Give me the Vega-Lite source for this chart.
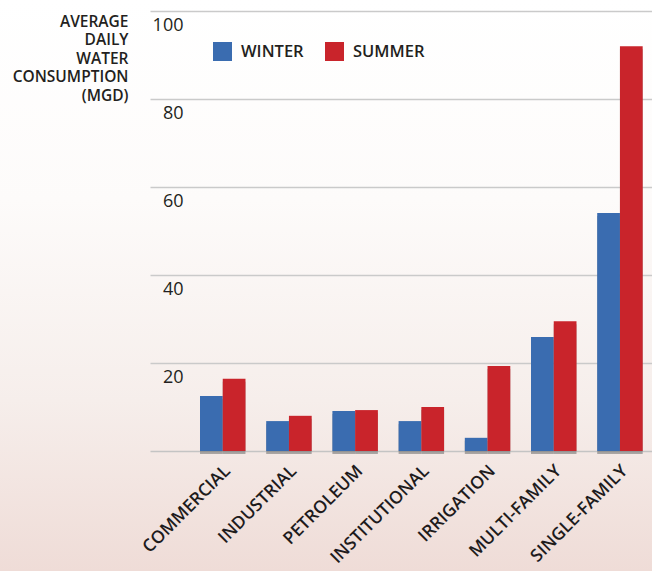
{
  "$schema": "https://vega.github.io/schema/vega-lite/v6.json",
  "padding": 0,
  "spacing": 0,
  "bounds": "flush",
  "background": "#ffffff",
  "config": {
    "view": {
      "stroke": null,
      "fill": {
        "gradient": "linear",
        "x1": 0, "y1": 0, "x2": 0, "y2": 1,
        "stops": [
          {"offset": 0, "color": "#ffffff"},
          {"offset": 0.35, "color": "#fdfbfa"},
          {"offset": 0.7, "color": "#f6eeeb"},
          {"offset": 1, "color": "#efdcd7"}
        ]
      }
    },
    "font": "Open Sans"
  },
  "hconcat": [
    {
      "width": 150,
      "height": 571,
      "data": {"values": [{}]},
      "mark": {
        "type": "rect",
        "fill": {
          "gradient": "linear",
          "x1": 0, "y1": 0, "x2": 0, "y2": 1,
          "stops": [
            {"offset": 0, "color": "#ffffff"},
            {"offset": 0.35, "color": "#fdfbfa"},
            {"offset": 0.7, "color": "#f6eeeb"},
            {"offset": 1, "color": "#efdcd7"}
          ]
        },
        "strokeWidth": 0
      },
      "encoding": {}
    },
    {
      "width": 502,
      "height": 571,
      "data": {
        "values": [
          {"sector": "COMMERCIAL", "season": "Winter", "mgd": 12.5},
          {"sector": "COMMERCIAL", "season": "Summer", "mgd": 16.4},
          {"sector": "INDUSTRIAL", "season": "Winter", "mgd": 6.8},
          {"sector": "INDUSTRIAL", "season": "Summer", "mgd": 8.0},
          {"sector": "PETROLEUM", "season": "Winter", "mgd": 9.1},
          {"sector": "PETROLEUM", "season": "Summer", "mgd": 9.3},
          {"sector": "INSTITUTIONAL", "season": "Winter", "mgd": 6.8},
          {"sector": "INSTITUTIONAL", "season": "Summer", "mgd": 10.0},
          {"sector": "IRRIGATION", "season": "Winter", "mgd": 3.0},
          {"sector": "IRRIGATION", "season": "Summer", "mgd": 19.3},
          {"sector": "MULTI-FAMILY", "season": "Winter", "mgd": 25.9},
          {"sector": "MULTI-FAMILY", "season": "Summer", "mgd": 29.5},
          {"sector": "SINGLE-FAMILY", "season": "Winter", "mgd": 54.1},
          {"sector": "SINGLE-FAMILY", "season": "Summer", "mgd": 92.0}
        ]
      },
      "encoding": {
        "x": {
          "field": "sector",
          "type": "nominal",
          "sort": null,
          "scale": {"paddingInner": 0.313, "paddingOuter": 0.448, "align": 0.843},
          "axis": {
            "title": null,
            "orient": "bottom",
            "offset": -120,
            "domain": true,
            "domainColor": "#c4c4c4",
            "domainWidth": 1.5,
            "ticks": false,
            "grid": false,
            "labelAngle": -45,
            "labelAlign": "right",
            "labelBaseline": "middle",
            "labelPadding": 17,
            "labelOffset": 5,
            "labelFont": "Open Sans",
            "labelFontSize": 17.5,
            "labelFontWeight": 600,
            "labelColor": "#1e1b1c"
          }
        },
        "xOffset": {
          "field": "season",
          "type": "nominal",
          "sort": ["Winter", "Summer"],
          "scale": {"paddingInner": 0, "paddingOuter": 0}
        },
        "y": {
          "field": "mgd",
          "type": "quantitative",
          "scale": {"domain": [-27.27, 102.5], "nice": false, "zero": false},
          "axis": {
            "values": [20, 40, 60, 80, 100],
            "grid": true,
            "gridColor": "#cacaca",
            "gridWidth": 1.5,
            "domain": false,
            "ticks": false,
            "labelAlign": "right",
            "labelBaseline": "top",
            "labelPadding": -33,
            "labelOffset": 5,
            "labelFont": "Open Sans",
            "labelFontSize": 18,
            "labelFontWeight": 500,
            "labelColor": "#231f20",
            "title": ["AVERAGE", "DAILY", "WATER", "CONSUMPTION", "(MGD)"],
            "titleAngle": 0,
            "titleAlign": "right",
            "titleBaseline": "top",
            "titleX": -22,
            "titleY": 14,
            "titleFont": "Open Sans",
            "titleFontSize": 15.5,
            "titleFontWeight": 600,
            "titleLineHeight": 18.5,
            "titleColor": "#231f20"
          }
        }
      },
      "layer": [
        {
          "mark": {"type": "bar", "color": "#6e6e6e", "opacity": 0.55, "xOffset": -4, "yOffset": 3, "y2Offset": 0}
        },
        {
          "mark": {"type": "bar"},
          "encoding": {
            "color": {
              "field": "season",
              "type": "nominal",
              "scale": {"domain": ["Winter", "Summer"], "range": ["#3a6cb0", "#c9242b"]},
              "legend": {
                "orient": "none",
                "direction": "horizontal",
                "legendX": 213,
                "legendY": 42,
                "padding": 0,
                "title": null,
                "symbolType": "square",
                "symbolSize": 361,
                "symbolStrokeWidth": 0,
                "symbolOpacity": 1,
                "columnPadding": 21,
                "labelOffset": 9,
                "labelExpr": "upper(datum.label)",
                "labelFont": "Open Sans",
                "labelFontSize": 16.5,
                "labelFontWeight": 600,
                "labelColor": "#231f20"
              }
            }
          }
        }
      ]
    }
  ]
}
